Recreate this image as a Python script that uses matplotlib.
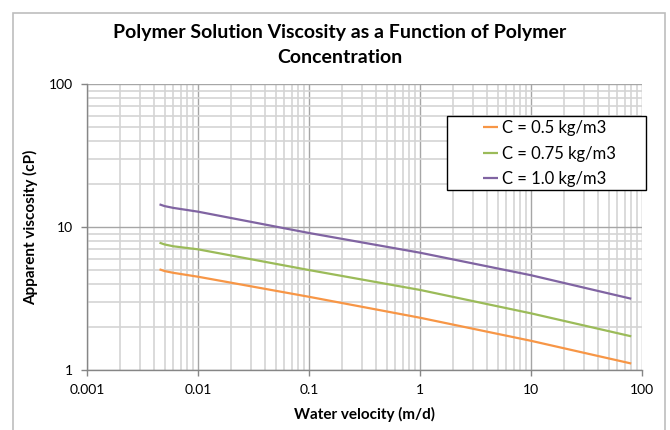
import matplotlib.pyplot as plt
import matplotlib.ticker as mticker
from matplotlib.patches import Rectangle

# Water velocity (m/d) and apparent viscosity (cP) for each concentration
velocity = [0.0045, 0.005, 0.006, 0.01, 0.1, 1, 10, 80]
visc_050 = [5.06, 4.92, 4.78, 4.49, 3.25, 2.32, 1.60, 1.11]
visc_075 = [7.77, 7.55, 7.33, 6.98, 5.00, 3.63, 2.49, 1.72]
visc_100 = [14.4, 14.0, 13.6, 12.8, 9.08, 6.61, 4.60, 3.15]

series_labels = ["C = 0.5 kg/m3", "C = 0.75 kg/m3", "C = 1.0 kg/m3"]
series_colors = ["#F79646", "#9BBB59", "#8064A2"]

plt.rcParams['font.family'] = ['Lato', 'DejaVu Sans']

W, H = 670, 430
fig = plt.figure(figsize=(W / 100, H / 100), dpi=100)

# chart area border
fig.patches.append(Rectangle((13 / W, -0.05), 652 / W, 1 - 13 / H + 0.05,
                             transform=fig.transFigure, fill=False,
                             edgecolor="#BDBDBD", linewidth=1.2))

ax = fig.add_axes([87 / W, 1 - 370 / H, 555 / W, 286 / H])

for yvals, lab, col in zip([visc_050, visc_075, visc_100], series_labels, series_colors):
    ax.plot(velocity, yvals, color=col, linewidth=1.6, label=lab, solid_capstyle='butt')

ax.set_xscale('log')
ax.set_yscale('log')
ax.set_xlim(0.001, 100)
ax.set_ylim(1, 100)

ax.xaxis.set_major_locator(mticker.LogLocator(base=10, numticks=10))
ax.yaxis.set_major_locator(mticker.LogLocator(base=10, numticks=10))
ax.xaxis.set_minor_locator(mticker.LogLocator(base=10, subs=range(2, 10), numticks=20))
ax.yaxis.set_minor_locator(mticker.LogLocator(base=10, subs=range(2, 10), numticks=20))
ax.xaxis.set_major_formatter(mticker.FuncFormatter(lambda v, p: f"{v:g}"))
ax.yaxis.set_major_formatter(mticker.FuncFormatter(lambda v, p: f"{v:g}"))
ax.xaxis.set_minor_formatter(mticker.NullFormatter())
ax.yaxis.set_minor_formatter(mticker.NullFormatter())

ax.grid(True, which='major', color='#A6A6A6', linewidth=1.0)
ax.grid(True, which='minor', color='#D4D4D4', linewidth=1.2)
ax.set_axisbelow(True)

for s in ['top', 'right']:
    ax.spines[s].set_visible(False)
for s in ['left', 'bottom']:
    ax.spines[s].set_color('#868686')
    ax.spines[s].set_linewidth(1.0)

ax.tick_params(which='major', length=4, width=1, color='#868686', labelsize=10, pad=6)
ax.tick_params(which='minor', length=0)

ax.set_xlabel("Water velocity (m/d)", fontsize=11, fontweight='bold', labelpad=8)
ax.set_ylabel("Apparent viscosity (cP)", fontsize=11, fontweight='bold')
ax.yaxis.set_label_coords(-0.088, 0.5)

fig.text(340 / W, 1 - 45 / H, "Polymer Solution Viscosity as a Function of Polymer\nConcentration",
         ha='center', va='center', fontsize=14, fontweight='bold', linespacing=1.55)

# legend box drawn separately so the entries can sit inside with wide margins
box = Rectangle((447 / W, 1 - 190 / H), 199 / W, 74 / H,
                transform=fig.transFigure, facecolor='white',
                edgecolor='black', linewidth=1.0, zorder=5, clip_on=False)
ax.add_patch(box)
leg = ax.legend(loc='upper left', bbox_to_anchor=(480 / W, 1 - 117 / H),
                bbox_transform=fig.transFigure, frameon=False,
                fontsize=12, handlelength=0.9, handletextpad=0.2,
                borderpad=0.2, labelspacing=0.55, borderaxespad=0)
leg.set_zorder(6)

fig.savefig("out.png", dpi=100)
